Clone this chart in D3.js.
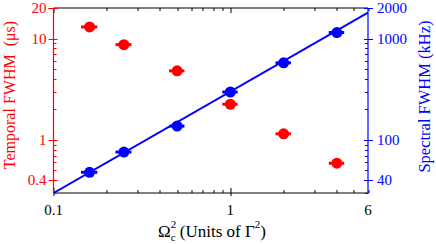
<!DOCTYPE html>
<html>
<head>
<meta charset="utf-8">
<script src="https://cdn.jsdelivr.net/npm/d3@7"></script>
<style>
  body { margin: 0; background: #fff; }
  svg { display: block; }
  svg text { font-family: "Liberation Serif", "Times New Roman", Times, "DejaVu Serif", serif; }
</style>
</head>
<body>
<svg id="chart" width="436" height="244"></svg>
<script>
// Ω_c^2 in units of Γ^2
var omegaSq = [0.16, 0.25, 0.5, 1, 2, 4];
// horizontal error on Ω_c^2
var omegaErr = [0.017, 0.026, 0.05, 0.1, 0.2, 0.4];
// temporal FWHM (µs), left axis
var temporal = [13.0, 8.7, 4.8, 2.25, 1.15, 0.59];
// spectral FWHM (kHz), right axis
var spectral = [48, 76, 137, 297, 576, 1146];
// linear fit of spectral width
var fitX = [0.1, 6];
var fitY = [30, 1800];

var xTickLabels = [0.1, 1, 6];
var leftTickLabels = [20, 10, 1, 0.4];
var rightTickLabels = [2000, 1000, 100, 40];

var RED = '#ff0000';
var BLUE = '#0000ff';
var FONT = '"Liberation Serif", "Times New Roman", serif';

var svg = d3.select('#chart').attr('font-family', FONT);
var margin = {left: 53.5, right: 68, top: 8, bottom: 51};
var W = 436 - margin.left - margin.right;
var H = 244 - margin.top - margin.bottom;

var x = d3.scaleLog().domain([0.1, 6]).range([0, W]);
var yL = d3.scaleLog().domain([0.3, 20]).range([H, 0]);
var yR = d3.scaleLog().domain([30, 2000]).range([H, 0]);

var g = svg.append('g')
  .attr('transform', 'translate(' + margin.left + ',' + margin.top + ')');

g.append('clipPath').attr('id', 'clip')
  .append('rect').attr('width', W).attr('height', H);

// minor tick values for a log domain
function logTicks(domain) {
  var out = [];
  for (var e = -2; e <= 4; e++) {
    for (var m = 1; m < 10; m++) {
      var v = m * Math.pow(10, e);
      if (v >= domain[0] * 0.999 && v <= domain[1] * 1.001) out.push(v);
    }
  }
  return out;
}
function isMajor(v) {
  var l = Math.log10(v);
  return Math.abs(l - Math.round(l)) < 1e-6;
}

// bottom + top axes (black)
var xt = logTicks(x.domain());
var gx = g.append('g').attr('class', 'x-ticks').attr('stroke', '#000').attr('stroke-width', 1);
xt.forEach(function(v) {
  var px = Math.round(x(v)) + 0.5;
  var maj = isMajor(v);
  gx.append('line').attr('x1', px).attr('x2', px)
    .attr('y1', H + (maj ? 3 : 0)).attr('y2', H - (maj ? 5 : 3));
  gx.append('line').attr('x1', px).attr('x2', px)
    .attr('y1', 0).attr('y2', maj ? 5 : 3);
});
g.append('line').attr('x1', 0).attr('x2', W).attr('y1', H).attr('y2', H)
  .attr('stroke', '#000').attr('stroke-width', 1.2);
g.append('line').attr('x1', 0).attr('x2', W).attr('y1', 0).attr('y2', 0)
  .attr('stroke', '#000').attr('stroke-width', 1.2);

g.selectAll('.xlab').data(xTickLabels).enter().append('text')
  .attr('class', 'xlab')
  .attr('x', function(d) { return x(d); })
  .attr('y', H + 22)
  .attr('text-anchor', 'middle')
  .attr('font-size', 15)
  .attr('fill', '#000')
  .text(function(d) { return d; });

// left axis (red)
var yl = logTicks(yL.domain()).concat([20]);
var gl = g.append('g').attr('stroke', RED).attr('stroke-width', 1);
yl.forEach(function(v) {
  var py = Math.round(yL(v)) + 0.5;
  var lab = leftTickLabels.indexOf(v) >= 0;
  gl.append('line').attr('y1', py).attr('y2', py)
    .attr('x1', lab ? -5 : 0).attr('x2', lab ? 4 : 3);
});
g.append('line').attr('x1', 0).attr('x2', 0).attr('y1', 0).attr('y2', H)
  .attr('stroke', RED).attr('stroke-width', 1.2);
g.selectAll('.ylab').data(leftTickLabels).enter().append('text')
  .attr('class', 'ylab')
  .attr('x', -7)
  .attr('y', function(d) { return yL(d) + 5; })
  .attr('text-anchor', 'end')
  .attr('font-size', 15)
  .attr('fill', RED)
  .text(function(d) { return d; });

// right axis (blue)
var yr = logTicks(yR.domain());
var gr = g.append('g').attr('stroke', BLUE).attr('stroke-width', 1);
yr.forEach(function(v) {
  var py = Math.round(yR(v)) + 0.5;
  var lab = rightTickLabels.indexOf(v) >= 0;
  gr.append('line').attr('y1', py).attr('y2', py)
    .attr('x1', W + (lab ? 5 : 0)).attr('x2', W - (lab ? 4 : 3));
});
g.append('line').attr('x1', W).attr('x2', W).attr('y1', 0).attr('y2', H + 1)
  .attr('stroke', BLUE).attr('stroke-width', 1.2);
g.selectAll('.yrlab').data(rightTickLabels).enter().append('text')
  .attr('class', 'yrlab')
  .attr('x', W + 9)
  .attr('y', function(d) { return yR(d) + 5; })
  .attr('text-anchor', 'start')
  .attr('font-size', 15)
  .attr('fill', BLUE)
  .text(function(d) { return d; });

// fit line
var plot = g.append('g').attr('clip-path', 'url(#clip)');
plot.append('path')
  .datum(d3.zip(fitX, fitY))
  .attr('fill', 'none')
  .attr('stroke', BLUE)
  .attr('stroke-width', 2)
  .attr('d', d3.line()
    .x(function(d) { return x(d[0]); })
    .y(function(d) { return yR(d[1]); }));

// points with horizontal error bars
function series(vals, scale, color) {
  var s = g.append('g');
  var data = d3.zip(omegaSq, vals, omegaErr);
  s.selectAll('line.err').data(data).enter().append('line')
    .attr('class', 'err')
    .attr('x1', function(d) { return x(d[0] - d[2]); })
    .attr('x2', function(d) { return x(d[0] + d[2]); })
    .attr('y1', function(d) { return scale(d[1]); })
    .attr('y2', function(d) { return scale(d[1]); })
    .attr('stroke', color)
    .attr('stroke-width', 3);
  s.selectAll('circle').data(data).enter().append('circle')
    .attr('cx', function(d) { return x(d[0]); })
    .attr('cy', function(d) { return scale(d[1]); })
    .attr('r', 5.5)
    .attr('fill', color);
}
series(temporal, yL, RED);
series(spectral, yR, BLUE);

// axis titles
svg.append('text')
  .attr('transform', 'translate(15,95) rotate(-90)')
  .attr('text-anchor', 'middle')
  .attr('font-size', 16)
  .attr('fill', RED)
  .attr('xml:space', 'preserve')
  .text('Temporal FWHM  (\u03bcs)');

svg.append('text')
  .attr('transform', 'translate(429.5,96.5) rotate(-90)')
  .attr('text-anchor', 'middle')
  .attr('font-size', 16.5)
  .attr('fill', BLUE)
  .text('Spectral FWHM (kHz)');

var xt2 = svg.append('text')
  .attr('x', 158)
  .attr('y', 236.5)
  .attr('font-size', 17)
  .attr('fill', '#000');
xt2.append('tspan').text('\u03a9');
xt2.append('tspan').attr('font-size', 11).attr('dy', -9).text('2');
xt2.append('tspan').attr('font-size', 11).attr('dx', -5.5).attr('dy', 13).text('c');
xt2.append('tspan').attr('dy', -4).text(' (Units of \u0393');
xt2.append('tspan').attr('font-size', 11).attr('dy', -9).text('2');
xt2.append('tspan').attr('dy', 9).text(')');
</script>
</body>
</html>
